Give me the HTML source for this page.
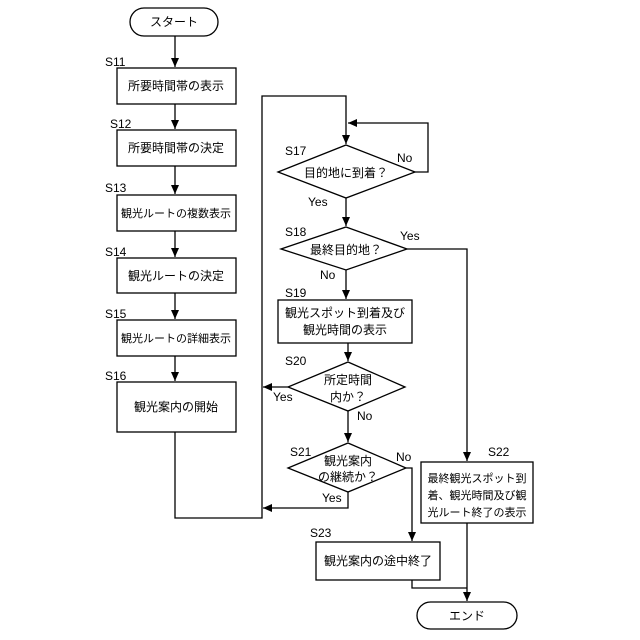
<!DOCTYPE html>
<html><head><meta charset="utf-8"><style>body{margin:0;background:#fff}svg{display:block}text{font-family:"Liberation Sans","Noto Sans CJK JP",sans-serif;font-size:12px;fill:#000}.s{font-size:11px}</style></head><body>
<svg width="640" height="640" viewBox="0 0 640 640">
<defs><marker id="a" markerWidth="10" markerHeight="10" refX="9" refY="5" orient="auto" markerUnits="userSpaceOnUse"><path d="M0,1 L9,5 L0,9 Z" fill="#000"/></marker></defs>
<g fill="none" stroke="#000" stroke-width="1.3">
<rect x="130" y="8" width="88" height="28" rx="14"/>
<rect x="117" y="68" width="119" height="36"/>
<rect x="117" y="130" width="119" height="36"/>
<rect x="117" y="195" width="119" height="36"/>
<rect x="117" y="258" width="119" height="35"/>
<rect x="117" y="320" width="119" height="36"/>
<rect x="117" y="382" width="119" height="50"/>
<polygon points="346,145 415,172 346,198 278,172"/>
<polygon points="346,227 407,249 346,270 281,249"/>
<rect x="278" y="300" width="134" height="43"/>
<polygon points="348,362 405,387 348,411 288,387"/>
<polygon points="348,443 406,468 348,492 288,468"/>
<rect x="421" y="462" width="112" height="61"/>
<rect x="316" y="542" width="124" height="38"/>
<rect x="417" y="602" width="100" height="27" rx="13.5"/>
<line x1="175" y1="36" x2="175" y2="67" marker-end="url(#a)"/>
<line x1="175" y1="104" x2="175" y2="129" marker-end="url(#a)"/>
<line x1="175" y1="166" x2="175" y2="194" marker-end="url(#a)"/>
<line x1="175" y1="231" x2="175" y2="257" marker-end="url(#a)"/>
<line x1="175" y1="293" x2="175" y2="319" marker-end="url(#a)"/>
<line x1="175" y1="356" x2="175" y2="381" marker-end="url(#a)"/>
<polyline points="175,432 175,518 262,518 262,96 346,96 346,144" marker-end="url(#a)"/>
<polyline points="415,172 428,172 428,123 348,123" marker-end="url(#a)"/>
<line x1="346" y1="198" x2="346" y2="226" marker-end="url(#a)"/>
<polyline points="407,249 467,249 467,461" marker-end="url(#a)"/>
<line x1="346" y1="270" x2="346" y2="299" marker-end="url(#a)"/>
<line x1="348" y1="343" x2="348" y2="361" marker-end="url(#a)"/>
<line x1="288" y1="387" x2="263" y2="387" marker-end="url(#a)"/>
<line x1="348" y1="411" x2="348" y2="442" marker-end="url(#a)"/>
<polyline points="348,492 348,508 263,508" marker-end="url(#a)"/>
<polyline points="406,468 412,468 412,541" marker-end="url(#a)"/>
<polyline points="412,580 412,588 467,588"/>
<line x1="467" y1="523" x2="467" y2="601" marker-end="url(#a)"/>
</g>
<g text-anchor="middle">
<text x="174" y="26">スタート</text>
<text x="176" y="90">所要時間帯の表示</text>
<text x="176" y="152">所要時間帯の決定</text>
<text class="s" x="176" y="217">観光ルートの複数表示</text>
<text x="176" y="280">観光ルートの決定</text>
<text class="s" x="176" y="342">観光ルートの詳細表示</text>
<text x="176" y="411">観光案内の開始</text>
<text x="346" y="177">目的地に到着？</text>
<text x="346" y="254">最終目的地？</text>
<text x="345" y="317">観光スポット到着及び</text>
<text x="345" y="334">観光時間の表示</text>
<text x="348" y="384">所定時間</text>
<text x="348" y="401">内か？</text>
<text x="348" y="465">観光案内</text>
<text x="348" y="481">の継続か？</text>
<text class="s" x="477" y="482">最終観光スポット到</text>
<text class="s" x="477" y="499">着、観光時間及び観</text>
<text class="s" x="477" y="516">光ルート終了の表示</text>
<text x="378" y="565">観光案内の途中終了</text>
<text x="467" y="620">エンド</text>
</g>
<g>
<text x="105" y="66">S11</text>
<text x="110" y="128">S12</text>
<text x="105" y="192">S13</text>
<text x="105" y="256">S14</text>
<text x="105" y="318">S15</text>
<text x="105" y="380">S16</text>
<text x="285" y="155">S17</text>
<text x="285" y="236">S18</text>
<text x="285" y="297">S19</text>
<text x="285" y="365">S20</text>
<text x="290" y="456">S21</text>
<text x="488" y="456">S22</text>
<text x="310" y="537">S23</text>
<text x="397" y="162">No</text>
<text x="308" y="206">Yes</text>
<text x="400" y="240">Yes</text>
<text x="320" y="279">No</text>
<text x="273" y="401">Yes</text>
<text x="357" y="420">No</text>
<text x="396" y="461">No</text>
<text x="322" y="502">Yes</text>
</g>
</svg>
</body></html>
